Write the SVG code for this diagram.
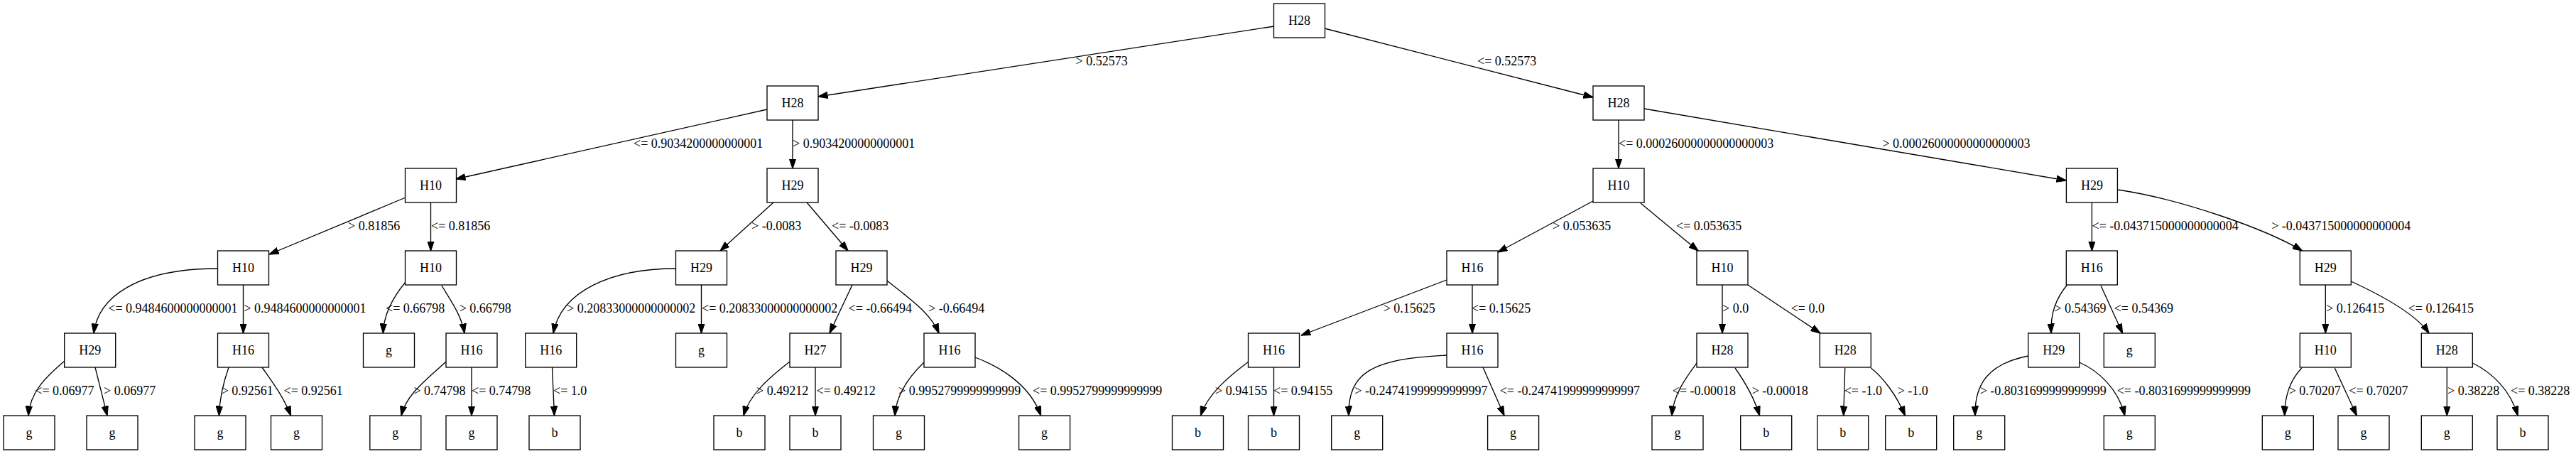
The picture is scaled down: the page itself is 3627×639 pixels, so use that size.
<svg xmlns="http://www.w3.org/2000/svg" width="3627" height="639" viewBox="0 0 3627 639">
<style>
.n rect{fill:#fff;stroke:#000;stroke-width:1.33}
.n text{font-family:"Liberation Serif","Times New Roman",serif;font-size:18px;text-anchor:middle;fill:#000}
.e path{fill:none;stroke:#000;stroke-width:1.33;marker-end:url(#ah)}
.l text{font-family:"Liberation Serif","Times New Roman",serif;font-size:18px;fill:#000}
</style>
<defs>
<marker id="ah" markerUnits="userSpaceOnUse" markerWidth="14" markerHeight="10" viewBox="0 0 14 10" refX="13.5" refY="5" orient="auto">
<path d="M0,0.3 L14,5 L0,9.7 z" fill="#000" stroke="#000" stroke-width="1"/>
</marker>
</defs>
<rect x="0" y="0" width="3627" height="639" fill="#fff"/>
<g id="edges" class="e">
<path d="M1794,37 L1152,136"/>
<path d="M1865,40 L2243,137"/>
<path d="M1080,154 L642,252"/>
<path d="M1116,169 L1116,237"/>
<path d="M2279,169 L2279,237"/>
<path d="M2315,153 L2909,254"/>
<path d="M571,278 L379,358"/>
<path d="M606.5,285 L606.5,353"/>
<path d="M1089,285 L1014,353"/>
<path d="M1136,285 L1194,353"/>
<path d="M2243,283 L2109,355"/>
<path d="M2310,286 L2391,353"/>
<path d="M2945.4,285 L2945.4,353"/>
<path d="M2981.5,267 C3070,280 3190,322 3241.5,353"/>
<path d="M307,378 C190,378 138,420 132,469"/>
<path d="M342.5,401 L342.5,469"/>
<path d="M571,397 C552,420 540,445 539.5,469"/>
<path d="M622,402 C636,425 650,445 654,469"/>
<path d="M952,378 C860,378 790,410 779,469"/>
<path d="M987.5,401 L987.5,469"/>
<path d="M1200,401 L1168,469"/>
<path d="M1249,395 C1280,420 1310,440 1322,469"/>
<path d="M2037,394 L1832,472"/>
<path d="M2073,401 L2073,469"/>
<path d="M2425,401 L2425,469"/>
<path d="M2461,401 L2563,469"/>
<path d="M2910.5,401 C2895,420 2887,440 2888,469"/>
<path d="M2958,402 L2988.5,469"/>
<path d="M3274.3,401 L3274.3,469"/>
<path d="M3310.3,396 C3345,412 3400,440 3420,469"/>
<path d="M91,508 C65,530 42,552 40,585"/>
<path d="M134,517 L151,585"/>
<path d="M322,517 C314,540 309,560 308.5,585"/>
<path d="M369,517 C385,540 400,560 409.5,585"/>
<path d="M628,509 C600,535 572,555 565,585"/>
<path d="M664,517 L664,585"/>
<path d="M777.5,517 L780.5,585"/>
<path d="M1112,509 C1085,530 1055,555 1047,585"/>
<path d="M1148,517 L1148,585"/>
<path d="M1301,510 C1280,530 1262,555 1260,585"/>
<path d="M1373,503 C1405,515 1450,540 1465.5,585"/>
<path d="M1758,509 C1730,530 1700,555 1690.5,585"/>
<path d="M1793.5,517 L1793.5,585"/>
<path d="M2037,500 C1930,505 1898,525 1899,585"/>
<path d="M2088,517 L2118,585"/>
<path d="M2389,511 C2375,530 2356,555 2354,585"/>
<path d="M2443,518 C2455,535 2470,560 2477.5,585"/>
<path d="M2597.7,518 L2595.7,585"/>
<path d="M2634.3,518 C2650,530 2670,555 2682.3,585"/>
<path d="M2855.7,501 C2800,512 2780,540 2781,585"/>
<path d="M2927.7,510 C2955,522 2983,548 2991.7,585"/>
<path d="M3240.7,518 C3225,535 3217,555 3216.7,585"/>
<path d="M3287.3,518 L3318.3,585"/>
<path d="M3445.3,517 L3445.3,585"/>
<path d="M3481.3,511 C3510,525 3535,550 3545,585"/>
</g>
<g id="edge-labels" class="l">
<text x="1514.5" y="92">&gt; 0.52573</text>
<text x="2080" y="92">&lt;= 0.52573</text>
<text x="892" y="208">&lt;= 0.9034200000000001</text>
<text x="1116" y="208">&gt; 0.9034200000000001</text>
<text x="2279" y="208">&lt;= 0.00026000000000000003</text>
<text x="2650.4" y="208">&gt; 0.00026000000000000003</text>
<text x="490" y="324">&gt; 0.81856</text>
<text x="607" y="324">&lt;= 0.81856</text>
<text x="1058" y="324">&gt; -0.0083</text>
<text x="1171" y="324">&lt;= -0.0083</text>
<text x="2186" y="324">&gt; 0.053635</text>
<text x="2360" y="324">&lt;= 0.053635</text>
<text x="2945.5" y="324">&lt;= -0.043715000000000004</text>
<text x="3198.2" y="324">&gt; -0.043715000000000004</text>
<text x="152.3" y="440">&lt;= 0.9484600000000001</text>
<text x="343.3" y="440">&gt; 0.9484600000000001</text>
<text x="543" y="440">&lt;= 0.66798</text>
<text x="646.7" y="440">&gt; 0.66798</text>
<text x="798" y="440">&gt; 0.20833000000000002</text>
<text x="988" y="440">&lt;= 0.20833000000000002</text>
<text x="1194.6" y="440">&lt;= -0.66494</text>
<text x="1307" y="440">&gt; -0.66494</text>
<text x="1947.7" y="440">&gt; 0.15625</text>
<text x="2072" y="440">&lt;= 0.15625</text>
<text x="2425" y="440">&gt; 0.0</text>
<text x="2521.7" y="440">&lt;= 0.0</text>
<text x="2892.3" y="440">&gt; 0.54369</text>
<text x="2976.7" y="440">&lt;= 0.54369</text>
<text x="3275" y="440">&gt; 0.126415</text>
<text x="3390.7" y="440">&lt;= 0.126415</text>
<text x="49.3" y="556">&lt;= 0.06977</text>
<text x="146" y="556">&gt; 0.06977</text>
<text x="311.7" y="556">&gt; 0.92561</text>
<text x="399.5" y="556">&lt;= 0.92561</text>
<text x="582.4" y="556">&gt; 0.74798</text>
<text x="664" y="556">&lt;= 0.74798</text>
<text x="779" y="556">&lt;= 1.0</text>
<text x="1065" y="556">&gt; 0.49212</text>
<text x="1149.5" y="556">&lt;= 0.49212</text>
<text x="1265" y="556">&gt; 0.9952799999999999</text>
<text x="1454" y="556">&lt;= 0.9952799999999999</text>
<text x="1711" y="556">&gt; 0.94155</text>
<text x="1793" y="556">&lt;= 0.94155</text>
<text x="1907.3" y="556">&gt; -0.24741999999999997</text>
<text x="2111.7" y="556">&lt;= -0.24741999999999997</text>
<text x="2354.8" y="556">&lt;= -0.00018</text>
<text x="2466.7" y="556">&gt; -0.00018</text>
<text x="2596.7" y="556">&lt;= -1.0</text>
<text x="2671.7" y="556">&gt; -1.0</text>
<text x="2787.7" y="556">&gt; -0.8031699999999999</text>
<text x="2980.7" y="556">&lt;= -0.8031699999999999</text>
<text x="3222.7" y="556">&gt; 0.70207</text>
<text x="3307.3" y="556">&lt;= 0.70207</text>
<text x="3446" y="556">&gt; 0.38228</text>
<text x="3535" y="556">&lt;= 0.38228</text>
</g>
<g id="n0" class="n"><rect x="1793.5" y="5" width="72" height="48"/><text x="1829.5" y="35">H28</text></g>
<g id="n1" class="n"><rect x="1080" y="121" width="72" height="48"/><text x="1116" y="151">H28</text></g>
<g id="n2" class="n"><rect x="2243" y="121" width="72" height="48"/><text x="2279" y="151">H28</text></g>
<g id="n3" class="n"><rect x="570.5" y="237" width="72" height="48"/><text x="606.5" y="267">H10</text></g>
<g id="n4" class="n"><rect x="1080" y="237" width="72" height="48"/><text x="1116" y="267">H29</text></g>
<g id="n5" class="n"><rect x="2243" y="237" width="72" height="48"/><text x="2279" y="267">H10</text></g>
<g id="n6" class="n"><rect x="2909.4" y="237" width="72" height="48"/><text x="2945.4" y="267">H29</text></g>
<g id="n7" class="n"><rect x="306.5" y="353" width="72" height="48"/><text x="342.5" y="383">H10</text></g>
<g id="n8" class="n"><rect x="570.5" y="353" width="72" height="48"/><text x="606.5" y="383">H10</text></g>
<g id="n9" class="n"><rect x="951.5" y="353" width="72" height="48"/><text x="987.5" y="383">H29</text></g>
<g id="n10" class="n"><rect x="1177" y="353" width="72" height="48"/><text x="1213" y="383">H29</text></g>
<g id="n11" class="n"><rect x="2037" y="353" width="72" height="48"/><text x="2073" y="383">H16</text></g>
<g id="n12" class="n"><rect x="2389" y="353" width="72" height="48"/><text x="2425" y="383">H10</text></g>
<g id="n13" class="n"><rect x="2909.3" y="353" width="72" height="48"/><text x="2945.3" y="383">H16</text></g>
<g id="n14" class="n"><rect x="3238.3" y="353" width="72" height="48"/><text x="3274.3" y="383">H29</text></g>
<g id="n15" class="n"><rect x="90.7" y="469" width="72" height="48"/><text x="126.7" y="499">H29</text></g>
<g id="n16" class="n"><rect x="306.5" y="469" width="72" height="48"/><text x="342.5" y="499">H16</text></g>
<g id="n17" class="n"><rect x="511.5" y="469" width="72" height="48"/><text x="547.5" y="499">g</text></g>
<g id="n18" class="n"><rect x="628" y="469" width="72" height="48"/><text x="664" y="499">H16</text></g>
<g id="n19" class="n"><rect x="739.7" y="469" width="72" height="48"/><text x="775.7" y="499">H16</text></g>
<g id="n20" class="n"><rect x="951.5" y="469" width="72" height="48"/><text x="987.5" y="499">g</text></g>
<g id="n21" class="n"><rect x="1112" y="469" width="72" height="48"/><text x="1148" y="499">H27</text></g>
<g id="n22" class="n"><rect x="1301" y="469" width="72" height="48"/><text x="1337" y="499">H16</text></g>
<g id="n23" class="n"><rect x="1757.5" y="469" width="72" height="48"/><text x="1793.5" y="499">H16</text></g>
<g id="n24" class="n"><rect x="2037" y="469" width="72" height="48"/><text x="2073" y="499">H16</text></g>
<g id="n25" class="n"><rect x="2389" y="469" width="72" height="48"/><text x="2425" y="499">H28</text></g>
<g id="n26" class="n"><rect x="2562.3" y="469" width="72" height="48"/><text x="2598.3" y="499">H28</text></g>
<g id="n27" class="n"><rect x="2855.7" y="469" width="72" height="48"/><text x="2891.7" y="499">H29</text></g>
<g id="n28" class="n"><rect x="2962.3" y="469" width="72" height="48"/><text x="2998.3" y="499">g</text></g>
<g id="n29" class="n"><rect x="3238.3" y="469" width="72" height="48"/><text x="3274.3" y="499">H10</text></g>
<g id="n30" class="n"><rect x="3409.3" y="469" width="72" height="48"/><text x="3445.3" y="499">H28</text></g>
<g id="n31" class="n"><rect x="5" y="585" width="72" height="48"/><text x="41" y="615">g</text></g>
<g id="n32" class="n"><rect x="122" y="585" width="72" height="48"/><text x="158" y="615">g</text></g>
<g id="n33" class="n"><rect x="274" y="585" width="72" height="48"/><text x="310" y="615">g</text></g>
<g id="n34" class="n"><rect x="381.5" y="585" width="72" height="48"/><text x="417.5" y="615">g</text></g>
<g id="n35" class="n"><rect x="520.8" y="585" width="72" height="48"/><text x="556.8" y="615">g</text></g>
<g id="n36" class="n"><rect x="628" y="585" width="72" height="48"/><text x="664" y="615">g</text></g>
<g id="n37" class="n"><rect x="745" y="585" width="72" height="48"/><text x="781" y="615">b</text></g>
<g id="n38" class="n"><rect x="1005" y="585" width="72" height="48"/><text x="1041" y="615">b</text></g>
<g id="n39" class="n"><rect x="1112" y="585" width="72" height="48"/><text x="1148" y="615">b</text></g>
<g id="n40" class="n"><rect x="1229.5" y="585" width="72" height="48"/><text x="1265.5" y="615">g</text></g>
<g id="n41" class="n"><rect x="1434.6" y="585" width="72" height="48"/><text x="1470.6" y="615">g</text></g>
<g id="n42" class="n"><rect x="1650.5" y="585" width="72" height="48"/><text x="1686.5" y="615">b</text></g>
<g id="n43" class="n"><rect x="1757.5" y="585" width="72" height="48"/><text x="1793.5" y="615">b</text></g>
<g id="n44" class="n"><rect x="1874.7" y="585" width="72" height="48"/><text x="1910.7" y="615">g</text></g>
<g id="n45" class="n"><rect x="2094.6" y="585" width="72" height="48"/><text x="2130.6" y="615">g</text></g>
<g id="n46" class="n"><rect x="2326" y="585" width="72" height="48"/><text x="2362" y="615">g</text></g>
<g id="n47" class="n"><rect x="2450.7" y="585" width="72" height="48"/><text x="2486.7" y="615">b</text></g>
<g id="n48" class="n"><rect x="2558.7" y="585" width="72" height="48"/><text x="2594.7" y="615">b</text></g>
<g id="n49" class="n"><rect x="2654.7" y="585" width="72" height="48"/><text x="2690.7" y="615">b</text></g>
<g id="n50" class="n"><rect x="2750.7" y="585" width="72" height="48"/><text x="2786.7" y="615">g</text></g>
<g id="n51" class="n"><rect x="2962.3" y="585" width="72" height="48"/><text x="2998.3" y="615">g</text></g>
<g id="n52" class="n"><rect x="3185.3" y="585" width="72" height="48"/><text x="3221.3" y="615">g</text></g>
<g id="n53" class="n"><rect x="3292" y="585" width="72" height="48"/><text x="3328" y="615">g</text></g>
<g id="n54" class="n"><rect x="3409.3" y="585" width="72" height="48"/><text x="3445.3" y="615">g</text></g>
<g id="n55" class="n"><rect x="3516" y="585" width="72" height="48"/><text x="3552" y="615">b</text></g>
</svg>
